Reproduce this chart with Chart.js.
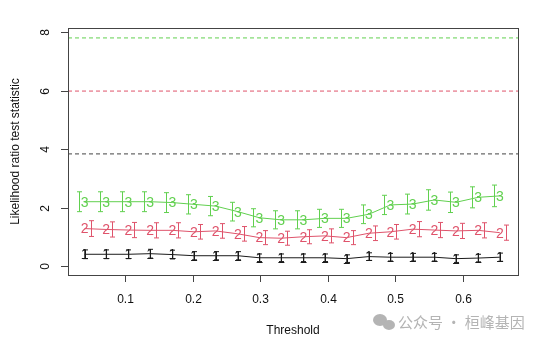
<!DOCTYPE html>
<html>
<head>
<meta charset="utf-8">
<script src="https://cdn.jsdelivr.net/npm/chart.js@4"></script>
<style>
  html, body { margin: 0; padding: 0; background: #fff; }
  #wrap { width: 537px; height: 343px; position: relative; }
</style>
</head>
<body>
<div id="wrap"><canvas id="myChart" width="537" height="343"></canvas></div>
<script>
// ========== data
const thresholds = [0.040, 0.072, 0.105, 0.137, 0.170, 0.202, 0.234, 0.267, 0.299, 0.331,
                    0.364, 0.396, 0.428, 0.461, 0.493, 0.526, 0.558, 0.590, 0.623, 0.655];
const lrt1 = [0.40, 0.40, 0.40, 0.42, 0.39, 0.35, 0.35, 0.35, 0.28, 0.28,
              0.28, 0.28, 0.25, 0.32, 0.30, 0.30, 0.30, 0.25, 0.27, 0.30];
const err1 = [0.15, 0.15, 0.15, 0.15, 0.15, 0.14, 0.14, 0.14, 0.13, 0.13,
              0.13, 0.13, 0.13, 0.13, 0.13, 0.13, 0.13, 0.13, 0.13, 0.14];
const lrt2 = [1.28, 1.25, 1.23, 1.22, 1.22, 1.17, 1.20, 1.10, 0.97, 0.95,
              1.00, 1.03, 0.97, 1.12, 1.17, 1.26, 1.23, 1.20, 1.22, 1.14];
const err2 = [0.27, 0.26, 0.26, 0.26, 0.26, 0.25, 0.25, 0.25, 0.24, 0.24,
              0.24, 0.24, 0.24, 0.25, 0.25, 0.26, 0.26, 0.26, 0.26, 0.26];
const lrt3 = [2.20, 2.20, 2.20, 2.20, 2.17, 2.11, 2.05, 1.86, 1.65, 1.58,
              1.58, 1.63, 1.63, 1.77, 2.09, 2.12, 2.26, 2.18, 2.35, 2.40];
const err3 = [0.34, 0.34, 0.34, 0.34, 0.34, 0.33, 0.33, 0.32, 0.31, 0.31,
              0.31, 0.31, 0.31, 0.32, 0.33, 0.34, 0.35, 0.35, 0.36, 0.37];
const critical = [3.84, 5.99, 7.81];
const xTicks = [0.1, 0.2, 0.3, 0.4, 0.5, 0.6];
const yTicks = [0, 2, 4, 6, 8];

const colors = ['#1a1a1a', '#DF536B', '#61D04F'];
const critColors = ['#6a6a6a', '#DF536B', '#61D04F'];
const xMin = 0.0154, xMax = 0.682, yMin = -0.31, yMax = 8.15;

// ========== helpers
function pts(ys) {
  return thresholds.map((x, i) => ({ x: x, y: ys[i] }));
}
function hline(v) {
  return [{ x: xMin, y: v }, { x: xMax, y: v }];
}

let series = [lrt1, lrt2, lrt3];
let errs = [err1, err2, err3];

let datasets = [];
critical.forEach((v, i) => {
  datasets.push({
    data: hline(v), borderColor: critColors[i], borderWidth: i === 0 ? 1.3 : 1,
    borderDash: [4, 3], pointRadius: 0
  });
});
series.forEach((s, i) => {
  datasets.push({
    data: pts(s), borderColor: colors[i], borderWidth: 1,
    pointRadius: 0, tension: 0
  });
});

// ========== R-style box, axes, error bars and digit markers
const rPlot = {
  id: 'rPlot',
  afterDatasetsDraw(chart) {
    const ctx = chart.ctx;
    const xs = chart.scales.x, ys = chart.scales.y;
    const a = chart.chartArea;
    ctx.save();

    // error bars + digit labels
    const dodge = [0, 6, -6];
    series.forEach((s, si) => {
      ctx.strokeStyle = colors[si];
      ctx.lineWidth = 1;
      thresholds.forEach((t, i) => {
        let px = Math.round(xs.getPixelForValue(t) + dodge[si]) + 0.5;
        let top = ys.getPixelForValue(s[i] + errs[si][i]);
        let bot = ys.getPixelForValue(s[i] - errs[si][i]);
        ctx.beginPath();
        ctx.moveTo(px, top); ctx.lineTo(px, bot);
        ctx.moveTo(px - 2.5, top); ctx.lineTo(px + 2.5, top);
        ctx.moveTo(px - 2.5, bot); ctx.lineTo(px + 2.5, bot);
        ctx.stroke();
      });
      ctx.fillStyle = colors[si];
      ctx.font = '14px "Liberation Sans", Arial, sans-serif';
      ctx.textAlign = 'center';
      ctx.textBaseline = 'middle';
      thresholds.forEach((t, i) => {
        ctx.fillText(String(si + 1), xs.getPixelForValue(t), ys.getPixelForValue(s[i]) + 1);
      });
    });

    // box
    ctx.strokeStyle = '#444';
    ctx.lineWidth = 1;
    ctx.strokeRect(Math.round(a.left) + 0.5, Math.round(a.top) + 0.5,
                   Math.round(a.right - a.left), Math.round(a.bottom - a.top));

    // ticks & labels
    ctx.fillStyle = '#111';
    ctx.font = '12px "Liberation Sans", Arial, sans-serif';
    ctx.textAlign = 'center';
    ctx.textBaseline = 'middle';
    xTicks.forEach(v => {
      let px = Math.round(xs.getPixelForValue(v)) + 0.5;
      ctx.beginPath();
      ctx.moveTo(px, a.bottom); ctx.lineTo(px, a.bottom + 7);
      ctx.stroke();
      ctx.fillText(String(v), px, 300);
    });
    yTicks.forEach(v => {
      let py = Math.round(ys.getPixelForValue(v)) + 0.5;
      ctx.beginPath();
      ctx.moveTo(a.left, py); ctx.lineTo(a.left - 7, py);
      ctx.stroke();
      ctx.save();
      ctx.translate(46, py);
      ctx.rotate(-Math.PI / 2);
      ctx.fillText(String(v), 0, 0);
      ctx.restore();
    });

    // titles
    ctx.fillText('Threshold', (a.left + a.right) / 2, 331);
    ctx.save();
    ctx.translate(16, (a.top + a.bottom) / 2);
    ctx.rotate(-Math.PI / 2);
    ctx.fillText('Likelihood ratio test statistic', 0, 0);
    ctx.restore();

    // watermark
    ctx.fillStyle = '#b4b4b4';
    ctx.beginPath();
    ctx.ellipse(380, 320, 7, 6, 0, 0, 2 * Math.PI);
    ctx.fill();
    ctx.beginPath();
    ctx.ellipse(389, 325, 6, 5, 0, 0, 2 * Math.PI);
    ctx.fill();
    ctx.font = '15px "Noto Sans CJK SC", sans-serif';
    ctx.textAlign = 'left';
    ctx.fillText('公众号 · 桓峰基因', 398, 322);

    ctx.restore();
  }
};

// ========== chart
var ctx1 = document.getElementById('myChart').getContext('2d');
let myChart = new Chart(ctx1, {
  type: 'line',
  data: { datasets: datasets },
  options: {
    responsive: false,
    animation: false,
    layout: { padding: { left: 68, right: 19, top: 28, bottom: 68 } },
    plugins: { legend: { display: false }, tooltip: { enabled: false } },
    scales: {
      x: { type: 'linear', min: xMin, max: xMax, display: false },
      y: { type: 'linear', min: yMin, max: yMax, display: false }
    }
  },
  plugins: [rPlot]
});
</script>
</body>
</html>
